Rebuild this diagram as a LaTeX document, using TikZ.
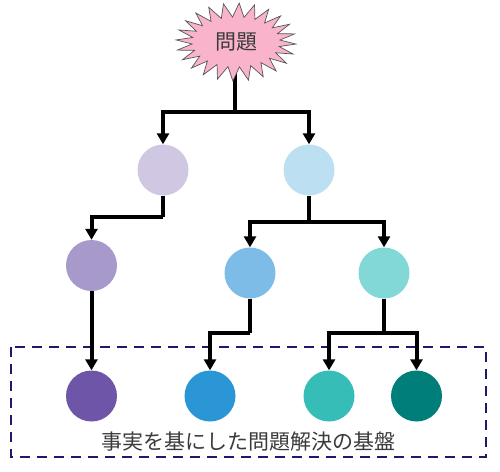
\documentclass[tikz,border=0pt]{standalone}
\usepackage{fontspec}
\newfontfamily\cjk{Noto Sans CJK JP}
\usetikzlibrary{arrows.meta}
\definecolor{pinkc}{HTML}{F9B4CC}
\definecolor{starline}{HTML}{555555}
\definecolor{txtc}{HTML}{3A3A3A}
\definecolor{navyc}{HTML}{1B1B6B}
\definecolor{c21}{HTML}{D0C8E2}
\definecolor{c22}{HTML}{BDDFF2}
\definecolor{c31}{HTML}{A899CB}
\definecolor{c32}{HTML}{7DBCE7}
\definecolor{c33}{HTML}{82D8D6}
\definecolor{c41}{HTML}{6E55A7}
\definecolor{c42}{HTML}{2A96D5}
\definecolor{c43}{HTML}{36BDB8}
\definecolor{c44}{HTML}{007F7A}
\tikzset{
  dot/.style={circle, minimum size=51pt, inner sep=0pt, fill=#1},
  link/.style={line width=4pt, line join=miter, black},
  arr/.style={link, -{Triangle[width=12pt,length=11pt]}},
  lbl/.style={font=\cjk\fontsize{21pt}{24pt}\selectfont, text=txtc, inner sep=0pt}
}
\begin{document}
\begin{tikzpicture}[x=1pt,y=-1pt]
\useasboundingbox (0,0) rectangle (500,471);
% base frame
\draw[navyc, line width=2.2pt, dash pattern=on 10pt off 7pt] (11,347) rectangle (486,457);
% nodes
\node[dot=c21] (n21) at (163,170) {};
\node[dot=c22] (n22) at (309,170) {};
\node[dot=c31] (n31) at (91.5,265.5) {};
\node[dot=c32] (n32) at (250,273) {};
\node[dot=c33] (n33) at (384,273) {};
\node[dot=c41] (n41) at (91.5,396) {};
\node[dot=c42] (n42) at (210,396) {};
\node[dot=c43] (n43) at (329,396) {};
\node[dot=c44] (n44) at (416.5,396) {};
% junctions
\coordinate (pb) at (235,70);
\coordinate (j1) at (235,112);
\coordinate (j2) at (163,217);
\coordinate (j3) at (309,222);
\coordinate (j4) at (250,333);
\coordinate (j5) at (384,333);
% connectors
\draw[link] (pb) -- (j1);
\draw[arr] (j1) -| (n21.north);
\draw[arr] (j1) -| (n22.north);
\draw[link] (n21.south) -- (j2);
\draw[arr] (j2) -| (n31.north);
\draw[link] (n22.south) -- (j3);
\draw[arr] (j3) -| (n32.north);
\draw[arr] (j3) -| (n33.north);
\draw[arr] (n31.south) -- (n41.north);
\draw[link] (n32.south) -- (j4);
\draw[arr] (j4) -| (n42.north);
\draw[link] (n33.south) -- (j5);
\draw[arr] (j5) -| (n43.north);
\draw[arr] (j5) -| (n44.north);
% starburst
\draw[fill=pinkc, draw=starline, line width=0.7pt, line join=miter]
  plot[variable=\i, samples at={0,...,47}]
  ({236+(52+8*cos(180*\i))*cos(\i*7.5+3)}, {42+(32+7*cos(180*\i))*sin(\i*7.5+3)}) -- cycle;
\node[lbl] (prob) at (236,42) {問題};
% base label
\node[lbl] (base) at (248,442) {事実を基にした問題解決の基盤};
\end{tikzpicture}
\end{document}
